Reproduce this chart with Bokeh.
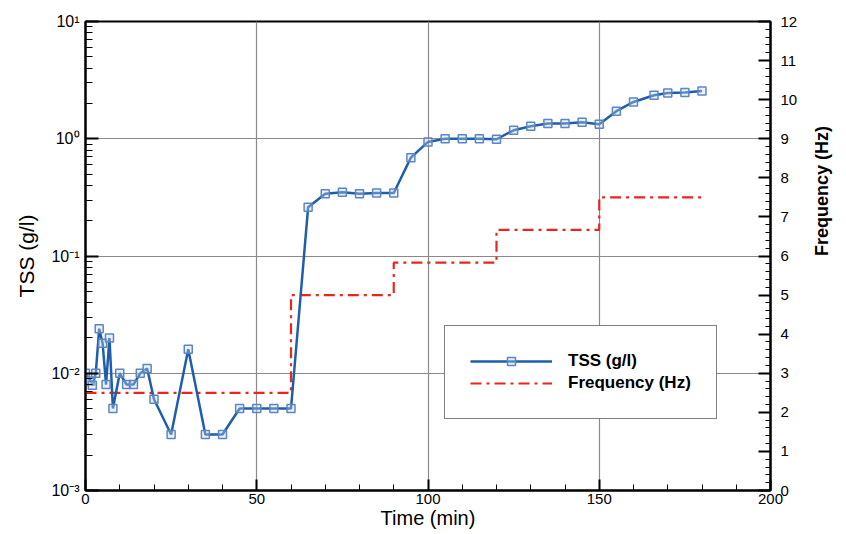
import math
from bokeh.plotting import figure
from bokeh.models import (Range1d, LinearAxis, LinearScale, FixedTicker,
                          CustomJSTickFormatter, Legend, LegendItem)
from bokeh.embed import file_html
from bokeh.resources import INLINE

# ---- data ----
time_tss = [0, 1.5, 2, 3, 4, 5, 6, 7, 8, 10, 12, 14, 16, 18, 20, 25, 30, 35, 40,
            45, 50, 55, 60, 65, 70, 75, 80, 85, 90, 95, 100, 105, 110, 115, 120,
            125, 130, 135, 140, 145, 150, 155, 160, 166, 170, 175, 180]
tss = [0.010, 0.0086, 0.0079, 0.010, 0.024, 0.018, 0.008, 0.020, 0.005, 0.010,
       0.008, 0.008, 0.010, 0.011, 0.006, 0.003, 0.016, 0.003, 0.003, 0.005,
       0.005, 0.005, 0.005, 0.26, 0.34, 0.35, 0.34, 0.345, 0.345, 0.69, 0.94,
       1.0, 1.0, 1.0, 0.99, 1.18, 1.28, 1.35, 1.35, 1.38, 1.33, 1.72, 2.06,
       2.35, 2.46, 2.48, 2.56]
time_freq = [0, 60, 90, 120, 150, 180]
freq = [2.5, 5.0, 5.83, 6.67, 7.5, 7.5]

x_ticks = [0, 50, 100, 150, 200]
y_ticks = [0.001, 0.01, 0.1, 1, 10]
freq_ticks = list(range(0, 13))

FONT = "Liberation Sans"
BLUE = "#1f5ea8"
RED = "#e8261a"

p = figure(width=846, height=534, output_backend="svg", toolbar_location=None,
           x_range=Range1d(0, 200), y_range=Range1d(1e-3, 10), y_axis_type="log",
           min_border_left=85, min_border_right=76, min_border_top=21,
           min_border_bottom=44)
p.extra_y_ranges = {"freq": Range1d(0, 12)}
p.extra_y_scales = {"freq": LinearScale()}
p.background_fill_color = "white"
p.border_fill_color = "white"
p.outline_line_color = "black"
p.outline_line_width = 2

# axes styles
def style_axis(ax, major_in, minor_in):
    ax.axis_line_color = "black"
    ax.axis_line_width = 2
    ax.major_tick_in = major_in
    ax.major_tick_out = 0
    ax.minor_tick_in = minor_in
    ax.minor_tick_out = 0
    ax.major_tick_line_color = "black"
    ax.major_tick_line_width = 2
    ax.minor_tick_line_color = "black"
    ax.minor_tick_line_width = 1
    ax.major_label_text_font = FONT
    ax.major_label_text_font_size = "15px"
    ax.major_label_text_color = "black"
    ax.axis_label_text_font = FONT
    ax.axis_label_text_font_style = "normal"
    ax.axis_label_text_color = "black"

xax = p.xaxis[0]
style_axis(xax, 11, 6)
xax.ticker = FixedTicker(ticks=x_ticks, minor_ticks=list(range(0, 201, 10)))
xax.axis_label = "Time (min)"
xax.axis_label_text_font_size = "20px"
xax.major_label_standoff = 3
xax.axis_label_standoff = 0

yax = p.yaxis[0]
style_axis(yax, 13, 7)
yax.major_label_text_font_size = "16px"
minor_log = [m * 10.0 ** e for e in range(-3, 1) for m in range(2, 10)]
yax.ticker = FixedTicker(ticks=y_ticks, minor_ticks=minor_log)
yax.formatter = CustomJSTickFormatter(code="""
const e = Math.round(Math.log10(tick));
const sup = {'-':'\u207b','0':'\u2070','1':'\u00b9','2':'\u00b2','3':'\u00b3','4':'\u2074','5':'\u2075','6':'\u2076','7':'\u2077','8':'\u2078','9':'\u2079'};
return '10' + String(e).split('').map(c => sup[c]).join('');
""")
yax.axis_label = "TSS (g/l)"
yax.axis_label_text_font_size = "21px"
yax.major_label_standoff = 6
yax.axis_label_standoff = 10

rax = LinearAxis(y_range_name="freq")
style_axis(rax, 12, 5)
rax.ticker = FixedTicker(ticks=freq_ticks, minor_ticks=[i * 0.2 for i in range(0, 61)])
rax.axis_label = "Frequency (Hz)"
rax.axis_label_text_font_size = "18px"
rax.axis_label_text_font_style = "bold"
rax.axis_label_orientation = math.pi / 2
rax.major_label_standoff = 10
rax.axis_label_standoff = 22
p.add_layout(rax, "right")

# grid
p.xgrid.ticker = FixedTicker(ticks=[50, 100, 150])
p.ygrid.ticker = FixedTicker(ticks=[0.01, 0.1, 1])
for g in (p.xgrid[0], p.ygrid[0]):
    g.grid_line_color = "#8a8a8a"
    g.grid_line_width = 1.2

# glyphs
fr = p.step(time_freq, freq, mode="after", y_range_name="freq",
            line_color=RED, line_width=2.2, line_dash="11 5 3 5")
tl = p.line(time_tss, tss, line_color=BLUE, line_width=2.5)
ts = p.scatter(time_tss, tss, marker="square", size=8, line_color="#5b86c4",
               line_width=1.5, fill_color="#c9d8ee", fill_alpha=0.35)

legend = Legend(items=[LegendItem(label="TSS (g/l)", renderers=[tl, ts]),
                       LegendItem(label="Frequency (Hz)", renderers=[fr])],
                location=(359, 71))
legend.label_text_font = FONT
legend.label_text_font_style = "bold"
legend.label_text_font_size = "17px"
legend.label_text_color = "black"
legend.glyph_width = 82
legend.glyph_height = 20
legend.label_standoff = 16
legend.padding = 25
legend.spacing = 2
legend.margin = 0
legend.border_line_color = "black"
legend.border_line_width = 1.5
legend.background_fill_color = "white"
legend.background_fill_alpha = 1.0
p.add_layout(legend)

open("out.html", "w").write(file_html(p, INLINE))
